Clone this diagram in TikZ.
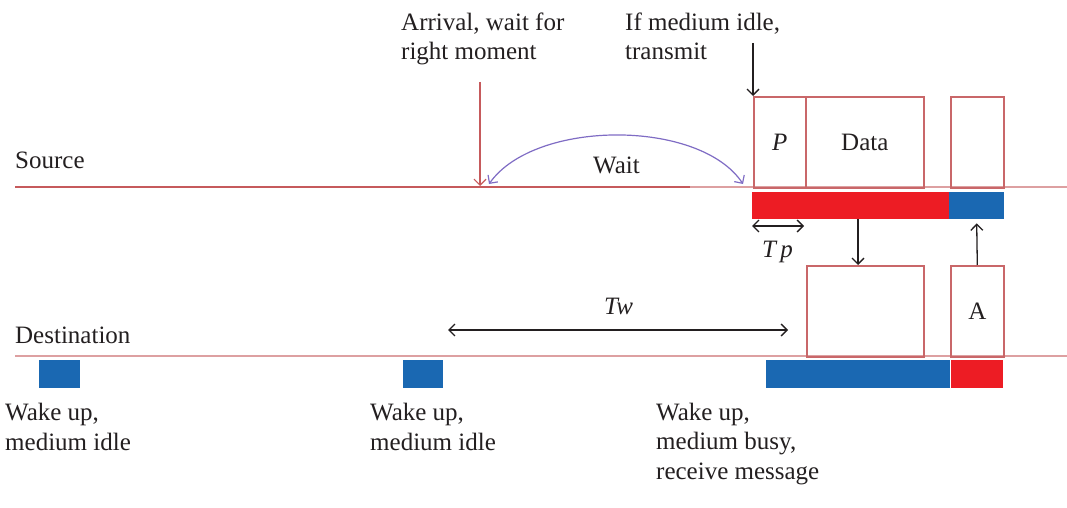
\documentclass[tikz,border=0pt]{standalone}
\usepackage{fontspec}
\setmainfont{Liberation Serif}
\usetikzlibrary{arrows.meta}

\definecolor{barred}{HTML}{ED1C24}
\definecolor{barblue}{HTML}{1A68B2}
\definecolor{lanered}{HTML}{C65A5C}
\definecolor{lanepink}{HTML}{DDA0A1}
\definecolor{boxline}{HTML}{C96769}
\definecolor{waitpurple}{HTML}{7F6CC4}
\definecolor{ink}{HTML}{231F20}

\tikzset{
  txt/.style={inner sep=0pt, anchor=base west, align=left,
    font=\fontsize{25}{29.5}\selectfont, text=ink},
  frame/.style={draw=boxline, line width=1.6pt, inner sep=0pt, anchor=north west,
    font=\fontsize{25}{29.5}\selectfont, text=ink},
  bar/.style={inner sep=0pt, draw=none, anchor=north west},
  lane/.style={draw=lanered, line width=1.3pt},
  tip/.style={-{Straight Barb[length=6pt,width=12pt]}},
  dtip/.style={{Straight Barb[length=6pt,width=12pt]}-{Straight Barb[length=6pt,width=12pt]}},
  blk/.style={draw=ink, line width=1.3pt},
}

\begin{document}
\begin{tikzpicture}[x=1pt, y=-1pt]
\useasboundingbox (0,0) rectangle (1067,508);

% lane labels and time lines
\node[txt] (srclabel) at (15,168) {Source};
\node[txt] (dstlabel) at (15,343) {Destination};
\coordinate (srcL) at (15,187);
\coordinate (srcM) at (690,187);
\coordinate (srcR) at (1067,187);
\coordinate (dstL) at (15,356);
\coordinate (dstR) at (1067,356);
\draw[lane] (srcL) -- (srcM);
\draw[draw=lanepink, line width=1.3pt] (srcM) -- (srcR);
\draw[draw=lanepink, line width=1.3pt] (dstL) -- (dstR);

% source frames
\node[frame, minimum width=52pt, minimum height=91pt] (pbox) at (753,96) {\textit{P}};
\node[frame, minimum width=118pt, minimum height=91pt] (databox) at (805,96) {Data};
\node[frame, minimum width=53pt, minimum height=91pt] (ackslot) at (950,96) {};

% source activity bars
\node[bar, fill=barred, minimum width=197pt, minimum height=27pt] (txbar) at (752,192) {};
\node[bar, fill=barblue, minimum width=55pt, minimum height=27pt] (rxbar) at (949,192) {};

% destination frames
\node[frame, minimum width=117pt, minimum height=91pt] (rcvbox) at (806,265) {};
\node[frame, minimum width=53pt, minimum height=91pt] (ackbox) at (950,265) {A};

% destination activity bars
\node[bar, fill=barblue, minimum width=41pt, minimum height=28pt] (wake1) at (39,360) {};
\node[bar, fill=barblue, minimum width=40pt, minimum height=28pt] (wake2) at (403,360) {};
\node[bar, fill=barblue, minimum width=184pt, minimum height=28pt] (wake3) at (766,360) {};
\node[bar, fill=barred, minimum width=52pt, minimum height=28pt] (ackbar) at (951,360) {};

% annotations (anchored at the baseline of their last line)
\node[txt] (arrival) at (401,60) {Arrival, wait for\\right moment};
\node[txt] (ifidle) at (625,60) {If medium idle,\\transmit};
\node[txt] (waitlbl) at (593,173) {Wait};
\node[txt] (wk1) at (5,450) {Wake up,\\medium idle};
\node[txt] (wk2) at (370,450) {Wake up,\\medium idle};
\node[txt] (wk3) at (656,479) {Wake up,\\medium busy,\\receive message};

% arrival marker
\coordinate (arrTop) at (480,82);
\coordinate (arrBot) at (480,186);
\draw[draw=lanered, line width=1.2pt, tip] (arrTop) -- (arrBot);

% waiting interval
\coordinate (waitL) at (489,184);
\coordinate (waitR) at (743,184);
\draw[draw=waitpurple, line width=1.2pt, dtip] (waitL) .. controls (535,119) and (700,119) .. (waitR);

% transmit marker
\coordinate (idleTop) at (753,43);
\draw[blk, tip] (idleTop) -- (pbox.north west);

% preamble duration
\coordinate (tpL) at (752,226);
\coordinate (tpR) at (804,226);
\draw[blk, dtip] (tpL) -- (tpR);
\node[txt] (tplbl) at (762,257) {\textit{T\,p}};

% message to destination and ack back
\coordinate (xdown) at (858,0);
\draw[blk, tip] (txbar.south -| xdown) -- (rcvbox.north -| xdown);
\draw[blk, tip] (ackbox.north) -- ([yshift=-4pt]rxbar.south);

% wake-up interval
\coordinate (twL) at (448,330);
\coordinate (twR) at (788,330);
\draw[blk, dtip] (twL) -- (twR);
\node[txt] (twlbl) at (604,314) {\textit{Tw}};
\end{tikzpicture}
\end{document}
